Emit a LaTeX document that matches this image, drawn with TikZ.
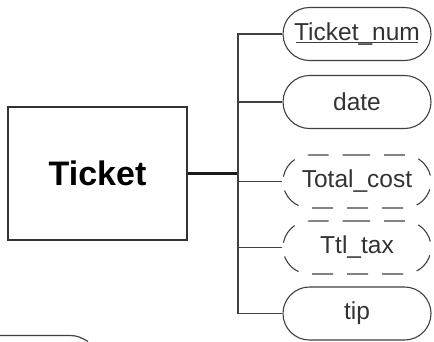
\documentclass[tikz,border=0pt]{standalone}
\usepackage{fontspec}
\setmainfont{Liberation Sans}
\usetikzlibrary{shapes.misc}
\begin{document}
\begin{tikzpicture}[x=1pt,y=-1pt,
  ent/.style={draw=black!80,line width=1.2pt,minimum width=179pt,minimum height=133pt,inner sep=0pt,font=\fontsize{34}{38}\selectfont\bfseries},
  attr/.style={draw=black!75,line width=1.1pt,rounded rectangle,minimum width=148pt,minimum height=53pt,inner sep=0pt,font=\fontsize{24.5}{28}\selectfont,text=black!80},
  derived/.style={attr,dash pattern=on 21pt off 14pt,dash phase=8pt},
  link/.style={draw=black!75,line width=1.3pt}]
\useasboundingbox (0,0) rectangle (434,341);
\node[ent] (ticket) at (97.5,173.5) {Ticket};
\node[attr] (num) at (357,34) {Ticket\_num};
\draw[black!75,line width=1pt] ([xshift=-61pt,yshift=-8.5pt]num.center) -- ([xshift=61pt,yshift=-8.5pt]num.center);
\node[attr] (date) at (357,102) {date};
\node[derived] (cost) at (357,181.5) {Total\_cost};
\node[derived] (tax) at (357,247.5) {Ttl\_tax};
\node[attr] (tip) at (357,313.5) {tip};
\coordinate (bus) at (238,173.5);
\draw[draw=black!90,line width=2.2pt] (ticket.east) -- (bus);
\foreach \a in {num,date,cost,tax,tip}{
  \draw[link] (bus) |- (\a.west);
}
\draw[draw=black!75,line width=1.2pt] (0,335.5) -- (70,335.5) to[out=0,in=150] (88,341.5);
\end{tikzpicture}
\end{document}
